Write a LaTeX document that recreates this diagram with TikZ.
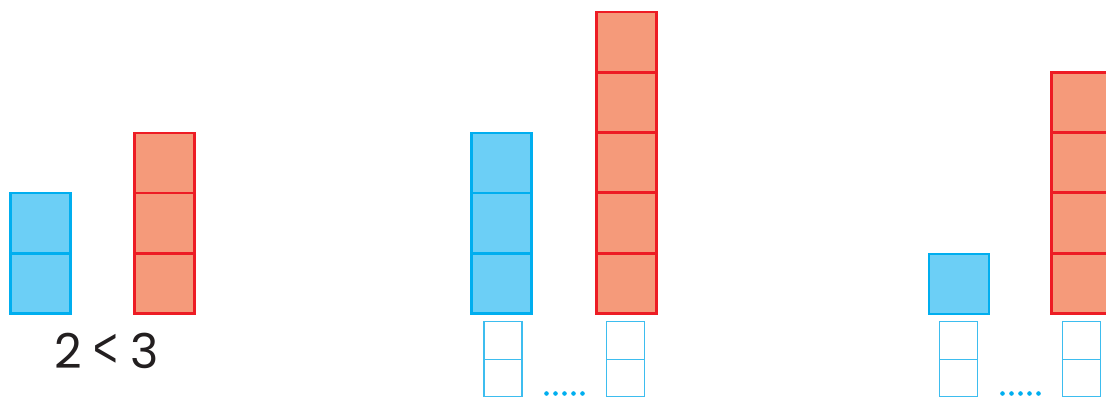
\documentclass[tikz,border=0pt]{standalone}
\usepackage{fontspec}
\usepackage{graphicx}
\setmainfont{Poppins}
\newfontfamily\ltfont{Liberation Sans}
\definecolor{bfill}{HTML}{6CCFF6}
\definecolor{bline}{HTML}{00AEEF}
\definecolor{rfill}{HTML}{F59A7A}
\definecolor{rline}{HTML}{ED1C24}
\definecolor{eline}{HTML}{3DBDEF}
\definecolor{txt}{HTML}{231F20}
\tikzset{
  cellB/.style={draw=bline,fill=bfill,line width=2.4pt,minimum width=60pt,minimum height=60pt,inner sep=0pt,outer sep=0pt},
  cellR/.style={draw=rline,fill=rfill,line width=2.4pt,minimum width=60pt,minimum height=60pt,inner sep=0pt,outer sep=0pt},
  cellE/.style={draw=eline,fill=white,line width=1.2pt,minimum width=38pt,minimum height=37.5pt,inner sep=0pt,outer sep=0pt},
  dotc/.style={fill=bline},
}
\begin{document}
\begin{tikzpicture}[x=1pt,y=-1pt]
\useasboundingbox (0,0) rectangle (1106,399);
% group 1
\node[cellB] (g1b1) at (40.5,283.5) {};
\node[cellB] (g1b2) at (40.5,223) {};
\node[cellR] (g1r1) at (164.5,283.5) {};
\node[cellR] (g1r2) at (164.5,223) {};
\node[cellR] (g1r3) at (164.5,163) {};
\node[text=txt,font=\fontsize{48}{48}\selectfont,anchor=base,inner sep=0pt] (cmp) at (106.5,368) {2\hspace{12pt}\raisebox{1pt}{\scalebox{1.4}[1.9]{\ltfont\fontsize{30}{30}\selectfont<}}\hspace{12pt}3};
% group 2
\node[cellB] (g2b1) at (501.5,283.5) {};
\node[cellB] (g2b2) at (501.5,223) {};
\node[cellB] (g2b3) at (501.5,163) {};
\node[cellR] (g2r1) at (626.5,283.5) {};
\node[cellR] (g2r2) at (626.5,223) {};
\node[cellR] (g2r3) at (626.5,162.5) {};
\node[cellR] (g2r4) at (626.5,102.5) {};
\node[cellR] (g2r5) at (626.5,42) {};
\node[cellE] (g2e1) at (503,340.5) {};
\node[cellE] (g2e2) at (503,378) {};
\node[cellE] (g2e3) at (625.5,340.5) {};
\node[cellE] (g2e4) at (625.5,378) {};
\foreach \i in {0,...,4} \fill[dotc] (546.5+9*\i,393.5) circle (2.3pt);
% group 3
\node[cellB] (g3b1) at (959,284) {};
\node[cellR] (g3r1) at (1081.5,283.5) {};
\node[cellR] (g3r2) at (1081.5,223) {};
\node[cellR] (g3r3) at (1081.5,162.5) {};
\node[cellR] (g3r4) at (1081.5,102.5) {};
\node[cellE] (g3e1) at (958.5,340.5) {};
\node[cellE] (g3e2) at (958.5,378) {};
\node[cellE] (g3e3) at (1081.5,340.5) {};
\node[cellE] (g3e4) at (1081.5,378) {};
\foreach \i in {0,...,4} \fill[dotc] (1002.5+9*\i,393.5) circle (2.3pt);
\end{tikzpicture}
\end{document}
